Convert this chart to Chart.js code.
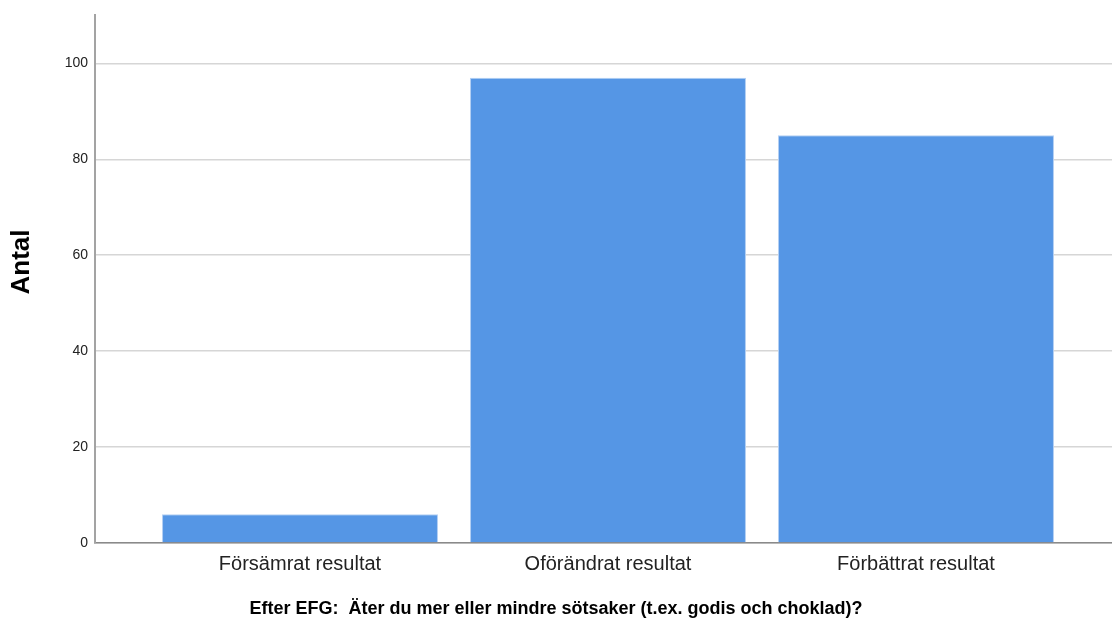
<!DOCTYPE html>
<html lang="sv">
<head>
<meta charset="utf-8">
<title>Efter EFG: Äter du mer eller mindre sötsaker?</title>
<script src="https://cdn.jsdelivr.net/npm/chart.js@4/dist/chart.umd.min.js"></script>
<style>
  html, body { margin: 0; padding: 0; background: #ffffff; }
  #wrap { width: 1112px; height: 621px; position: relative; }
</style>
</head>
<body>
<div id="wrap"><canvas id="chart"></canvas></div>
<script>
// Svarskategorier och antal svar per kategori
const categories = ['Försämrat resultat', 'Oförändrat resultat', 'Förbättrat resultat'];
const counts = [6, 97, 85];
const yTicks = [0, 20, 40, 60, 80, 100];
const xTitle = 'Efter EFG:  Äter du mer eller mindre sötsaker (t.ex. godis och choklad)?';
const yTitle = 'Antal';

const FONT = '"Liberation Sans", Arial, sans-serif';

// Axeltitlar ritas direkt på canvasen
const axisTitles = {
  id: 'axisTitles',
  afterDraw(chart) {
    const ctx = chart.ctx;
    ctx.save();
    ctx.fillStyle = '#000000';
    ctx.textAlign = 'center';
    ctx.textBaseline = 'middle';
    ctx.font = 'bold 18px ' + FONT;
    ctx.fillText(xTitle, chart.width / 2, 609);
    ctx.translate(22, 262);
    ctx.rotate(-Math.PI / 2);
    ctx.font = 'bold 26px ' + FONT;
    ctx.fillText(yTitle, 0, 0);
    ctx.restore();
  }
};

new Chart(document.getElementById('chart'), {
  type: 'bar',
  data: {
    datasets: [{
      label: yTitle,
      data: categories.map((c, i) => ({ x: i, y: counts[i] })),
      backgroundColor: '#5596e5',
      borderColor: '#b3cff3',
      borderWidth: 1,
      categoryPercentage: 1,
      barPercentage: 0.896
    }]
  },
  options: {
    responsive: true,
    maintainAspectRatio: false,
    animation: false,
    devicePixelRatio: 1,
    layout: { padding: { top: 12, right: 0, bottom: 38, left: 0 } },
    plugins: {
      legend: { display: false },
      tooltip: { enabled: false },
      title: { display: false }
    },
    scales: {
      x: {
        type: 'linear',
        offset: false,
        min: -0.6656,
        max: 2.6364,
        afterBuildTicks: axis => { axis.ticks = categories.map((c, i) => ({ value: i })); },
        afterFit: axis => { axis.height = 40; },
        grid: { display: false, drawTicks: false, offset: false },
        border: { display: true, color: '#8a8a8a', width: 1.5 },
        ticks: {
          padding: 9,
          color: '#222222',
          font: { family: FONT, size: 20 },
          callback: v => categories[v]
        }
      },
      y: {
        min: 0,
        max: 110,
        afterBuildTicks: axis => { axis.ticks = yTicks.map(v => ({ value: v })); },
        afterFit: axis => { axis.width = 95; },
        grid: { color: '#d6d6d6', lineWidth: 1.5, drawTicks: false },
        border: { display: true, color: '#a3a3a3', width: 2 },
        ticks: {
          padding: 7,
          color: '#222222',
          font: { family: FONT, size: 14 }
        }
      }
    }
  },
  plugins: [axisTitles]
});
</script>
</body>
</html>
